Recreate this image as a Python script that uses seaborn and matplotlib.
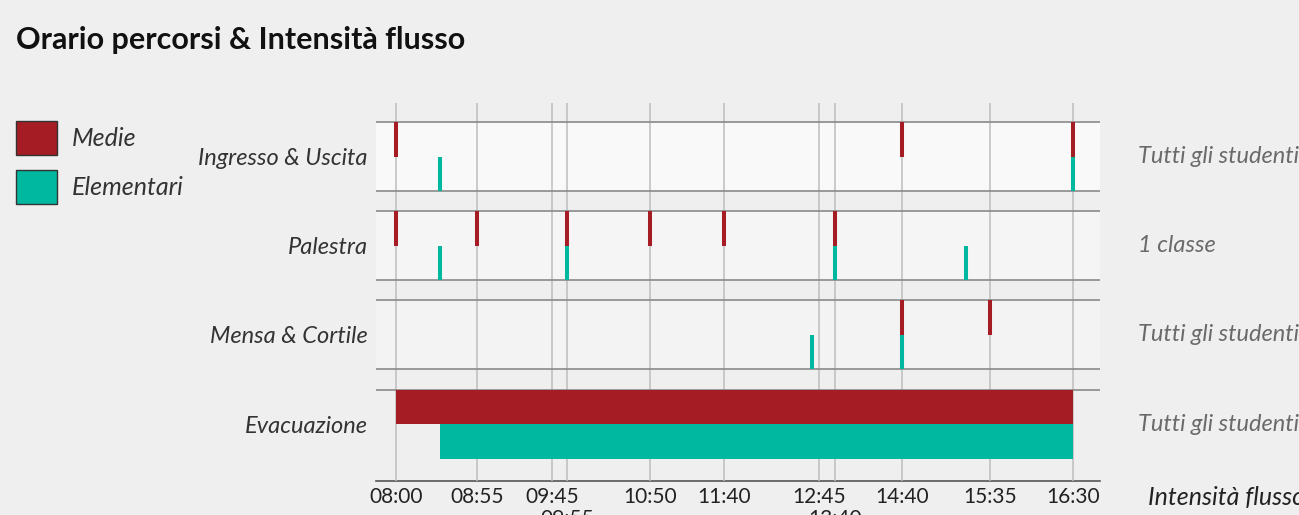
import numpy as np
import matplotlib
matplotlib.use("Agg")
import matplotlib.pyplot as plt
from matplotlib.patches import Patch
import seaborn as sns

# Dati
righe = ["Ingresso & Uscita", "Palestra", "Mensa & Cortile", "Evacuazione"]
note_destra = ["Tutti gli studenti", "1 classe", "Tutti gli studenti", "Tutti gli studenti"]
orari_asse = ["08:00", "08:55", "09:45", "09:55", "10:50", "11:40",
              "12:45", "13:40", "14:40", "15:35", "16:30"]
orari_sfalsati = ["09:55", "13:40"]

medie = {
    "Ingresso & Uscita": ["08:00", "14:40", "16:30"],
    "Palestra": ["08:00", "08:55", "09:55", "10:50", "11:40", "13:40"],
    "Mensa & Cortile": ["14:40", "15:35"],
}
elementari = {
    "Ingresso & Uscita": ["08:30", "16:30"],
    "Palestra": ["08:30", "09:55", "13:40", "15:20"],
    "Mensa & Cortile": ["12:40", "14:40"],
}
evac_medie = ("08:00", "16:30")
evac_elementari = ("08:30", "16:30")

ROSSO = "#a61c25"
VERDE = "#00b8a0"
SFONDO = "#efefef"
fasce = ["#f9f9f9", "#f5f5f5", "#f3f3f3", SFONDO]


def minuti(s):
    h, m = s.split(":")
    return int(h) * 60 + int(m)


sns.set_theme(style="white", rc={"figure.facecolor": SFONDO, "axes.facecolor": SFONDO})
plt.rcParams["font.family"] = ["Lato", "DejaVu Sans"]

fig = plt.figure(figsize=(12.99, 5.15), dpi=100)
ax = fig.add_axes([376 / 1299, 34 / 515, 724 / 1299, 378 / 515])

# scala dell'asse: tratti non proporzionali tra gli orari
tick_min = [minuti(t) for t in orari_asse]
tick_px = [396, 477, 552, 567, 650, 724, 819, 835, 902, 990, 1073]
nodi_min = [tick_min[0] - 60] + tick_min + [tick_min[-1] + 60]
nodi_px = [tick_px[0] - 60 * 81 / 55] + tick_px + [tick_px[-1] + 60 * 83 / 55]


def avanti(x):
    return np.interp(x, nodi_min, nodi_px)


def indietro(p):
    return np.interp(p, nodi_px, nodi_min)


ax.set_xscale("function", functions=(avanti, indietro))
ax.set_xlim(indietro(376), indietro(1100))

mezza = 0.387
ax.set_ylim(3.639, -0.600)

i_ev = righe.index("Evacuazione")
for i, r in enumerate(righe):
    ax.axhline(i - mezza, color="#8a8a8a", lw=1.2, zorder=2.6)
    if i == i_ev:
        continue
    ax.axhspan(i - mezza, i + mezza, color=fasce[i], zorder=1, lw=0)
    ax.axhline(i + mezza, color="#8a8a8a", lw=1.2, zorder=2.6)
    ax.vlines([minuti(t) for t in medie[r]], i - mezza, i, color=ROSSO, lw=2.9, zorder=3)
    ax.vlines([minuti(t) for t in elementari[r]], i, i + mezza, color=VERDE, lw=2.9, zorder=3)

a, b = minuti(evac_medie[0]), minuti(evac_medie[1])
ax.barh(i_ev - mezza / 2, b - a, left=a, height=mezza, color=ROSSO, zorder=3, lw=0)
a, b = minuti(evac_elementari[0]), minuti(evac_elementari[1])
ax.barh(i_ev + mezza / 2, b - a, left=a, height=mezza, color=VERDE, zorder=3, lw=0)

# assi
ax.set_xticks(tick_min)
ax.set_xticklabels(orari_asse)
ax.tick_params(axis="x", length=0, pad=4, labelsize=15, labelcolor="#222222")
for tk, t in zip(ax.xaxis.get_major_ticks(), orari_asse):
    if t in orari_sfalsati:
        tk.set_pad(20)
ax.set_yticks(range(len(righe)))
ax.set_yticklabels(righe, fontstyle="italic", fontsize=17, color="#333333")
ax.tick_params(axis="y", length=0, pad=6)
ax.set_axisbelow(False)
ax.grid(axis="x", color="#bdbdbd", lw=1.1)
ax.grid(axis="y", visible=False)
for s in ["left", "right", "top"]:
    ax.spines[s].set_visible(False)
ax.spines["bottom"].set_color("#555555")
ax.spines["bottom"].set_linewidth(1.2)

for i, t in enumerate(note_destra):
    ax.text((1138 - 376) / 724, i, t, transform=ax.get_yaxis_transform(),
            ha="left", va="center", fontstyle="italic", fontsize=17, color="#6a6a6a")

fig.text(1148 / 1299, 1 - 497 / 515, "Intensità flusso", ha="left", va="center",
         fontstyle="italic", fontsize=18, color="#222222")

fig.text(16 / 1299, 1 - 40 / 515, "Orario percorsi & Intensità flusso", ha="left",
         va="center", fontweight="bold", fontsize=22, color="#111111")

maniglie = [Patch(facecolor=ROSSO, edgecolor="#333333", label="Medie"),
            Patch(facecolor=VERDE, edgecolor="#333333", label="Elementari")]
leg = fig.legend(handles=maniglie, loc="upper left", bbox_to_anchor=(16 / 1299, 1 - 121 / 515),
                 frameon=False, fontsize=18, handlelength=1.64, handleheight=1.72,
                 labelspacing=0.6, handletextpad=0.6, borderpad=0, borderaxespad=0)
for t in leg.get_texts():
    t.set_fontstyle("italic")
    t.set_color("#333333")

fig.savefig("out.png", dpi=100, facecolor=SFONDO)
